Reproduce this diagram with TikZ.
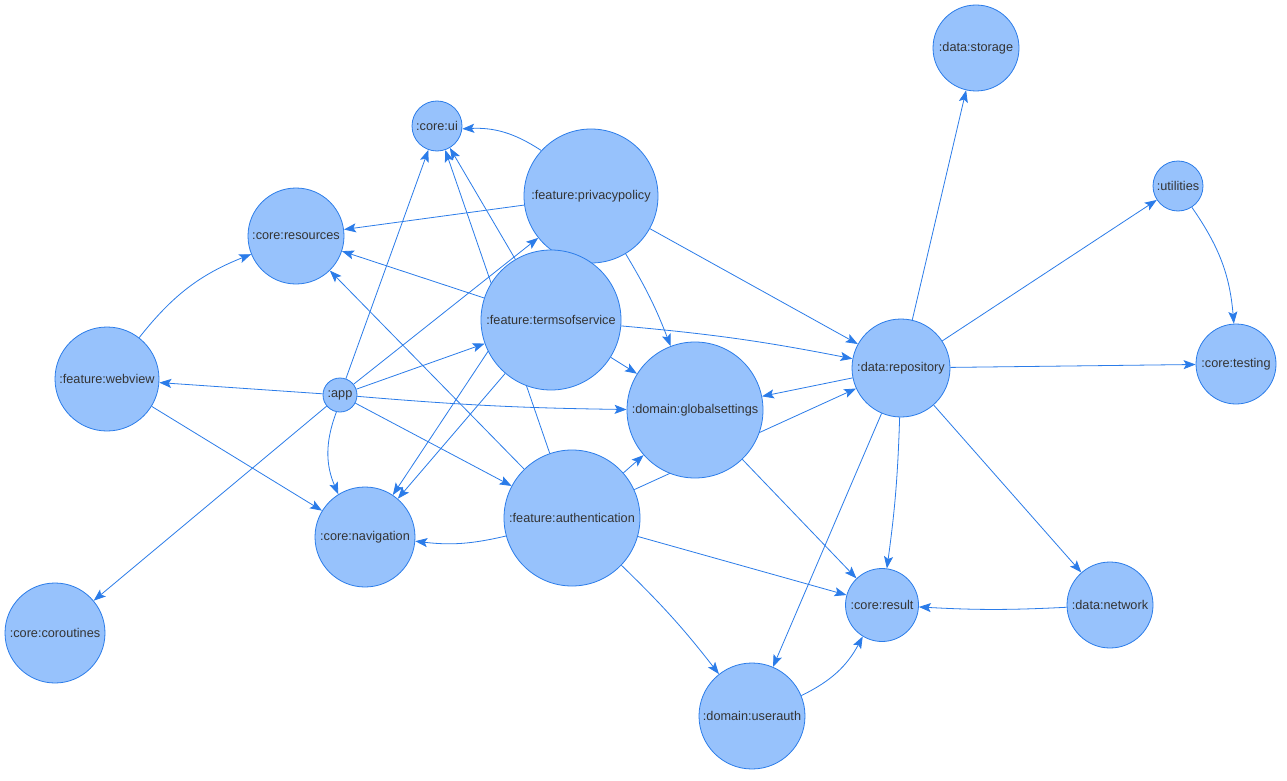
\documentclass[tikz,border=0pt]{standalone}
\usepackage{fontspec}
\setmainfont{Liberation Sans}
\usetikzlibrary{arrows.meta,backgrounds}
\definecolor{nfill}{HTML}{97C2FC}
\definecolor{nborder}{HTML}{2B7CE9}
\definecolor{ecol}{HTML}{2B7CE9}
\definecolor{tcol}{HTML}{343434}
\begin{document}
\begin{tikzpicture}[x=1pt,y=-1pt,
  mod/.style={circle,draw=nborder,fill=nfill,line width=0.8pt,inner sep=0pt,
    text=tcol,font=\fontsize{12.7}{15}\selectfont},
  lnk/.style={draw=ecol,line width=0.8pt,-{Stealth[length=12pt,width=9pt,inset=2.5pt]}}]
\path[use as bounding box] (0,0) rectangle (1287,781);
% nodes
\node[mod,minimum size=86pt] (storage) at (976,48) {:data:storage};
\node[mod,minimum size=50pt] (coreui) at (437,126) {:core:ui};
\node[mod,minimum size=134pt] (privacy) at (591,196) {:feature:privacypolicy};
\node[mod,minimum size=96pt] (resources) at (296,236) {:core:resources};
\node[mod,minimum size=50pt] (utilities) at (1178,186) {:utilities};
\node[mod,minimum size=140pt] (terms) at (551,320) {:feature:termsofservice};
\node[mod,minimum size=104pt] (webview) at (107,379) {:feature:webview};
\node[mod,minimum size=34pt] (app) at (340,395) {:app};
\node[mod,minimum size=136pt] (global) at (695,410) {:domain:globalsettings};
\node[mod,minimum size=98pt] (repo) at (901,368) {:data:repository};
\node[mod,minimum size=80pt] (testing) at (1236,364) {:core:testing};
\node[mod,minimum size=136pt] (auth) at (572,518) {:feature:authentication};
\node[mod,minimum size=100pt] (nav) at (365,537) {:core:navigation};
\node[mod,minimum size=100pt] (corout) at (55,633) {:core:coroutines};
\node[mod,minimum size=73pt] (result) at (882,605) {:core:result};
\node[mod,minimum size=86pt] (network) at (1110,605) {:data:network};
\node[mod,minimum size=106pt] (userauth) at (752,716) {:domain:userauth};
% edges
\begin{scope}[on background layer]
\fill[white] (0,0) rectangle (1287,781);
\draw[lnk] (privacy) to[bend right=18] (coreui);
\draw[lnk] (privacy) -- (resources);
\draw[lnk] (privacy) -- (repo);
\draw[lnk] (privacy) to[bend left=5] (global);
\draw[lnk] (privacy) -- (nav);
\draw[lnk] (terms) -- (coreui);
\draw[lnk] (terms) -- (resources);
\draw[lnk] (terms) to[bend left=3] (repo);
\draw[lnk] (terms) -- (global);
\draw[lnk] (terms) -- (nav);
\draw[lnk] (app) -- (coreui);
\draw[lnk] (app) -- (privacy);
\draw[lnk] (app) -- (terms);
\draw[lnk] (app) -- (webview);
\draw[lnk] (app) to[bend right=2] (global);
\draw[lnk] (app) -- (auth);
\draw[lnk] (app) to[bend right=22] (nav);
\draw[lnk] (app) -- (corout);
\draw[lnk] (webview) to[bend left=15] (resources);
\draw[lnk] (webview) -- (nav);
\draw[lnk] (auth) -- (coreui);
\draw[lnk] (auth) -- (resources);
\draw[lnk] (auth) to[bend left=10] (nav);
\draw[lnk] (auth) -- (global);
\draw[lnk] (auth) -- (repo);
\draw[lnk] (auth) -- (result);
\draw[lnk] (auth) to[bend left=4] (userauth);
\draw[lnk] (global) -- (result);
\draw[lnk] (repo) -- (global);
\draw[lnk] (repo) -- (storage);
\draw[lnk] (repo) -- (utilities);
\draw[lnk] (repo) -- (testing);
\draw[lnk] (repo) to[bend left=3] (result);
\draw[lnk] (repo) -- (network);
\draw[lnk] (repo) -- (userauth);
\draw[lnk] (utilities) to[bend left=15] (testing);
\draw[lnk] (network) to[bend left=3] (result);
\draw[lnk] (userauth) to[bend right=18] (result);
\end{scope}
\end{tikzpicture}
\end{document}
